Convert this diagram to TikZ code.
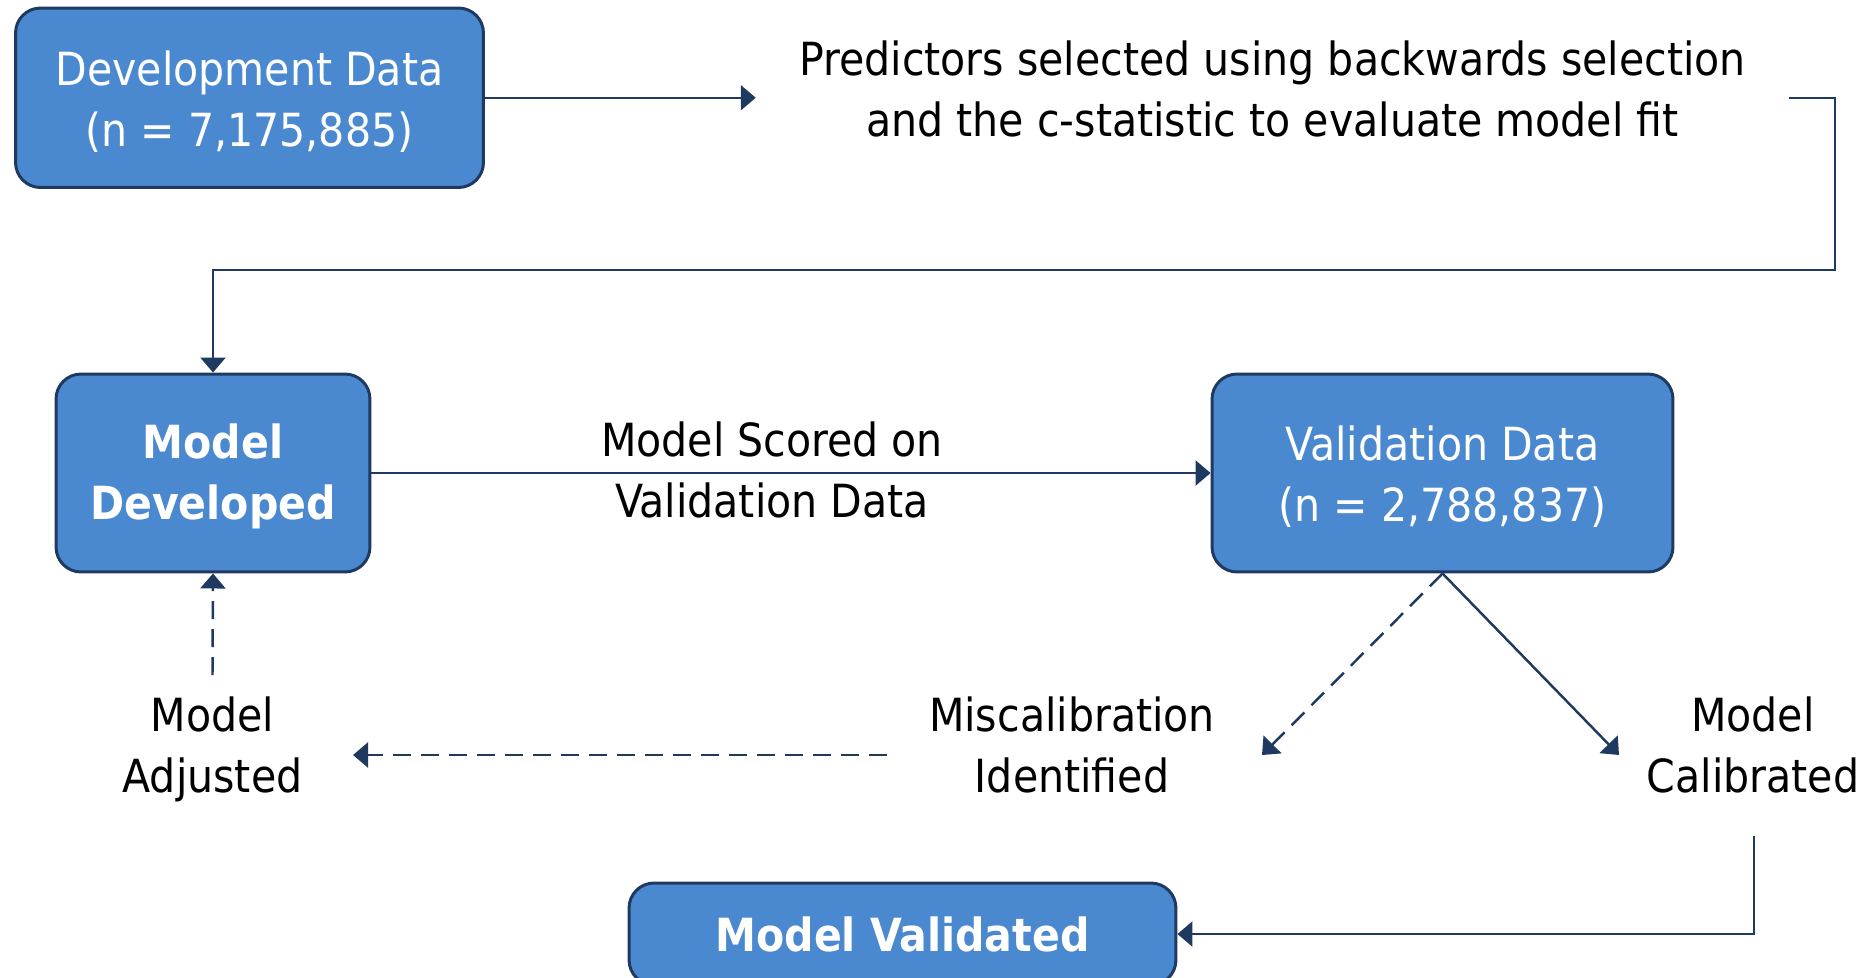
\documentclass[tikz,border=0pt]{standalone}
\usepackage{fontspec}
\setmainfont{DejaVu Sans Condensed}
\usetikzlibrary{arrows.meta}
\definecolor{boxfill}{RGB}{74,137,207}
\definecolor{navy}{RGB}{31,58,96}
\newcommand{\lowerstrut}{\rule{0pt}{0.84cm}}
\tikzset{
  box/.style={draw=navy, line width=1.7pt, fill=boxfill, rounded corners=0.5cm,
    text=white, align=center, inner sep=0pt},
  lbl/.style={text=black, align=center, inner sep=0pt},
  conn/.style={draw=navy, line width=1.4pt, -{Triangle[length=0.3cm,width=0.5cm]}},
  dconn/.style={conn, dash pattern=on 0.36cm off 0.2cm},
}
\begin{document}
\begin{tikzpicture}[x=0.02cm, y=-0.02cm, font=\fontsize{26}{34.7}\selectfont]
\useasboundingbox (0,0) rectangle (1872,977);
% boxes
\node[box, minimum width=9.36cm, minimum height=3.59cm] (dev) at (249.5,97.75) {\lowerstrut Development Data\\(n = 7,175,885)};
\node[box, minimum width=6.28cm, minimum height=3.96cm, font=\fontsize{26}{34.7}\selectfont\bfseries] (md) at (213,473) {\lowerstrut Model\\Developed};
\node[box, minimum width=9.22cm, minimum height=3.96cm] (vd) at (1442.5,473) {\lowerstrut Validation Data\\(n = 2,788,837)};
\node[box, minimum width=10.94cm, minimum height=2.04cm, font=\fontsize{26}{34.7}\selectfont\bfseries] (mv) at (902.5,934) {Model Validated};
% labels
\node[lbl, minimum width=20.66cm] (pred) at (1272.5,89) {Predictors selected using backwards selection\\and the c-statistic to evaluate model fit};
\node[lbl] (scored) at (772,470) {Model Scored on\\Validation Data};
\node[lbl] (mis) at (1072,745) {Miscalibration\\Identified};
\node[lbl] (cal) at (1753,745) {Model\\Calibrated};
\node[lbl] (adj) at (212.5,749) {Model\\Adjusted};
% connector end points
\coordinate (c1) at (1835,270);
\coordinate (misin) at (1262,755);
\coordinate (misout) at (887,755);
\coordinate (calin) at (1619,755);
\coordinate (calout) at (1754,836);
\coordinate (adjin) at (353,755);
\coordinate (adjout) at (212.5,675);
% connectors
\draw[conn] (dev.east) -- (dev.east -| pred.west);
\draw[conn] (pred.east |- dev.east) -| (c1) -| (md.north);
\draw[conn] (md.east) -- (vd.west);
\draw[dconn] (vd.south) -- (misin);
\draw[conn] (vd.south) -- (calin);
\draw[dconn] (misout) -- (adjin);
\draw[dconn] (adjout) -- (md.south);
\draw[conn] (calout) |- (mv.east);
\end{tikzpicture}
\end{document}
